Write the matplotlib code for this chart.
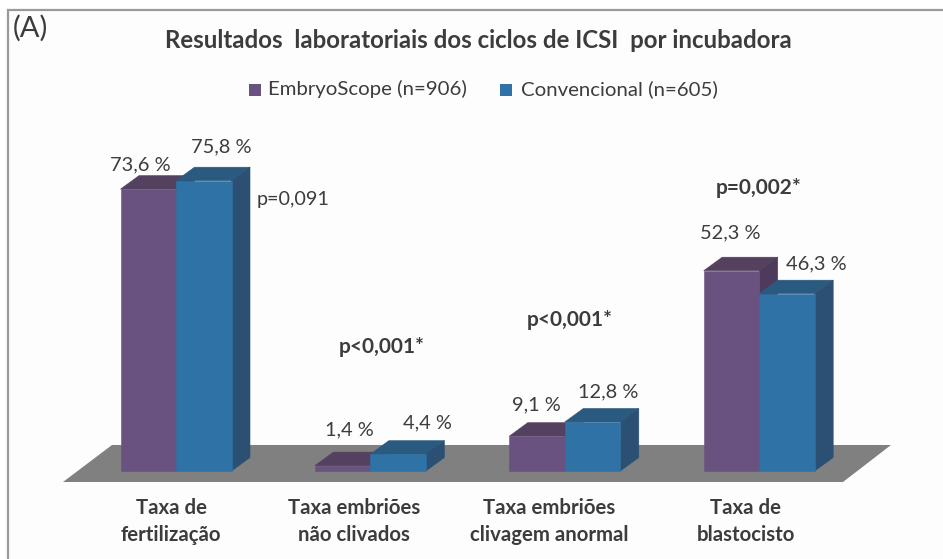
import matplotlib
matplotlib.use("Agg")
import matplotlib.pyplot as plt
from matplotlib.patches import Polygon, Rectangle

plt.rcParams["font.family"] = ["Lato", "DejaVu Sans"]

categories = ["Taxa de\nfertilização", "Taxa embriões\nnão clivados",
              "Taxa embriões\nclivagem anormal", "Taxa de\nblastocisto"]
embryoscope = [73.6, 1.4, 9.1, 52.3]
convencional = [75.8, 4.4, 12.8, 46.3]
series_names = ["EmbryoScope (n=906)", "Convencional (n=605)"]
p_values = ["p=0,091", "p<0,001*", "p<0,001*", "p=0,002*"]

W, H = 943, 559
GROUP_PX = 194.4   # pixels per category
PCT_PX = 3.83      # pixels per percent
X0_PX, Y0_PX = 176, 471
BAR_W = 55.5 / GROUP_PX
DX = 18.5 / GROUP_PX
DY = 13.5 / PCT_PX

TEXT = "#3c3c3c"
PURPLE = ("#6a5280", "#54405f", "#4e3b5c")
BLUE = ("#2f72a5", "#2b5a80", "#2b5073")


def fx(px):
    return px / W


def fy(px):
    return 1 - px / H


def bar3d(ax, x, value, colors):
    # x is the left edge of the front face
    front, top, side = colors
    ax.add_patch(Polygon([(x, value), (x + DX, value + DY), (x + BAR_W + DX, value + DY),
                          (x + BAR_W, value)], fc=top, ec=top, lw=0.4))
    ax.add_patch(Polygon([(x + BAR_W, 0), (x + BAR_W + DX, DY), (x + BAR_W + DX, value + DY),
                          (x + BAR_W, value)], fc=side, ec=side, lw=0.4))
    ax.add_patch(Rectangle((x, 0), BAR_W, value, fc=front, ec=front, lw=0.4))


fig = plt.figure(figsize=(W / 100, H / 100), dpi=100)
ax = fig.add_axes([0, 0, 1, 1])
ax.set_xlim(-X0_PX / GROUP_PX, (W - X0_PX) / GROUP_PX)
ax.set_ylim(-(H - Y0_PX) / PCT_PX, Y0_PX / PCT_PX)
ax.axis("off")

# outer frame
fig.add_artist(Rectangle((fx(8), fy(H + 5)), (W + 20) / W, (H - 5) / H, transform=fig.transFigure,
                         fc="#fdfdfd", ec="#9a9a9a", lw=1.6, zorder=-1))

# floor
ax.add_patch(Polygon([((63 - X0_PX) / GROUP_PX, -11 / PCT_PX), ((112 - X0_PX) / GROUP_PX, 26 / PCT_PX),
                      ((891 - X0_PX) / GROUP_PX, 26 / PCT_PX), ((843 - X0_PX) / GROUP_PX, -11 / PCT_PX)],
                     fc="#808080", ec="none"))

cat_px = [171, 354, 549, 746]
for i in range(len(categories)):
    bar3d(ax, i - BAR_W, embryoscope[i], PURPLE)
    bar3d(ax, i, convencional[i], BLUE)
    first, second = categories[i].split("\n")
    fig.text(fx(cat_px[i]), fy(508), first, ha="center", va="center",
             fontsize=14.7, fontweight="bold", color=TEXT)
    fig.text(fx(cat_px[i]), fy(535), second, ha="center", va="center",
             fontsize=14.7, fontweight="bold", color=TEXT)

# data labels
label_px = [(140, 165), (349, 430), (536, 405), (730, 233)]
label_px2 = [(221, 147), (427, 423), (608, 392), (816, 264)]
for i in range(len(categories)):
    a = f"{embryoscope[i]:.1f} %".replace(".", ",")
    b = f"{convencional[i]:.1f} %".replace(".", ",")
    fig.text(fx(label_px[i][0]), fy(label_px[i][1]), a, ha="center", va="center", fontsize=14.4, color=TEXT)
    fig.text(fx(label_px2[i][0]), fy(label_px2[i][1]), b, ha="center", va="center", fontsize=14.4, color=TEXT)

# p values
p_px = [(293, 199), (382, 347), (570, 320), (759, 188)]
for i in range(len(p_values)):
    bold = p_values[i] != "p=0,091"
    fig.text(fx(p_px[i][0]), fy(p_px[i][1]), p_values[i], ha="center", va="center",
             fontsize=15 if bold else 14.2, fontweight="bold" if bold else "normal", color=TEXT)

fig.text(fx(13), fy(28), "(A)", ha="left", va="center", fontsize=21, color=TEXT)
fig.text(fx(478), fy(40), "Resultados  laboratoriais dos ciclos de ICSI  por incubadora", ha="center", va="center",
         fontsize=17.3, fontweight="bold", color=TEXT)

# legend
fig.add_artist(Rectangle((fx(249), fy(96)), 12 / W, 12 / H, transform=fig.transFigure, fc=PURPLE[0], ec="none"))
fig.add_artist(Rectangle((fx(500), fy(96)), 12 / W, 12 / H, transform=fig.transFigure, fc=BLUE[0], ec="none"))
fig.text(fx(268), fy(89), series_names[0], ha="left", va="center", fontsize=14.7, color=TEXT)
fig.text(fx(521), fy(89), series_names[1], ha="left", va="center", fontsize=14.7, color=TEXT)

fig.savefig("out.png", dpi=100)
